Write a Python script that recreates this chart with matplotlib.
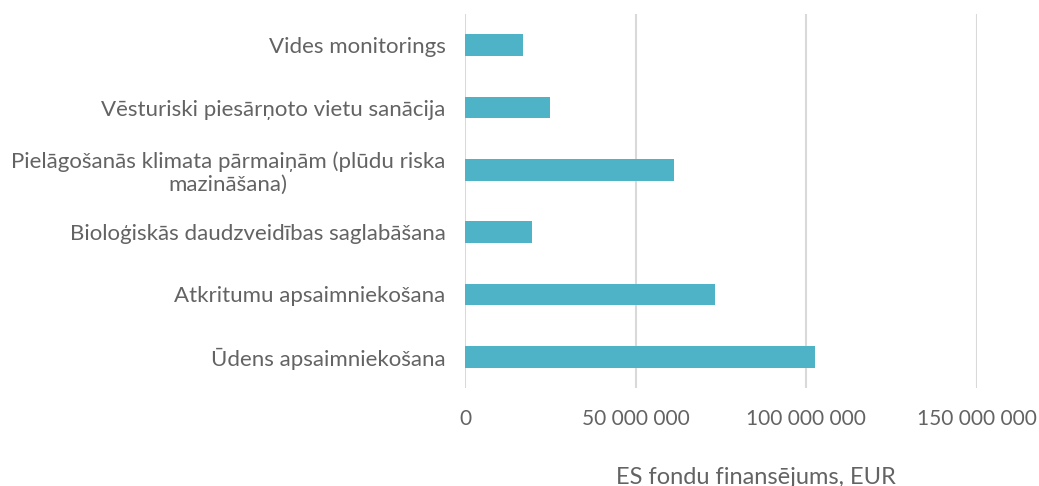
import matplotlib
matplotlib.use("Agg")
import matplotlib.pyplot as plt
from matplotlib.ticker import FuncFormatter

categories = [
    "Ūdens apsaimniekošana",
    "Atkritumu apsaimniekošana",
    "Bioloģiskās daudzveidības saglabāšana",
    "Pielāgošanās klimata pārmaiņām (plūdu riska\nmazināšana)",
    "Vēsturiski piesārņoto vietu sanācija",
    "Vides monitorings",
]
values = [102_600_000, 73_300_000, 19_600_000, 61_300_000, 24_900_000, 17_000_000]
x_ticks = [0, 50_000_000, 100_000_000, 150_000_000]

TEXT = "#636363"
BAR = "#4fb3c8"

plt.rcParams["font.family"] = ["Lato", "DejaVu Sans"]

fig = plt.figure(figsize=(10.39, 4.86), dpi=100)
ax = fig.add_axes([465 / 1039, 1 - 388 / 486, (977 - 465) / 1039, (388 - 14) / 486])

ax.barh(range(len(categories)), values, height=0.35, color=BAR, zorder=3)
ax.set_yticks(range(len(categories)))
ax.set_yticklabels(categories, multialignment="center")
ax.tick_params(axis="y", length=0, pad=14, labelsize=16, labelcolor=TEXT)

ax.set_ylim(-0.5, len(categories) - 0.5)
ax.set_xlim(0, 150_000_000)
ax.set_xticks(x_ticks)
ax.xaxis.set_major_formatter(FuncFormatter(lambda v, p: f"{int(v):,}".replace(",", " ")))
ax.tick_params(axis="x", length=0, pad=15, labelsize=15, labelcolor=TEXT)

ax.grid(axis="x", color="#d9d9d9", linewidth=1.5, zorder=0)
for s in ax.spines.values():
    s.set_visible(False)

ax.set_xlabel("ES fondu finansējums, EUR", fontsize=17, color=TEXT)
ax.xaxis.set_label_coords(0.568, -0.212)

fig.savefig("out.png", dpi=100)
